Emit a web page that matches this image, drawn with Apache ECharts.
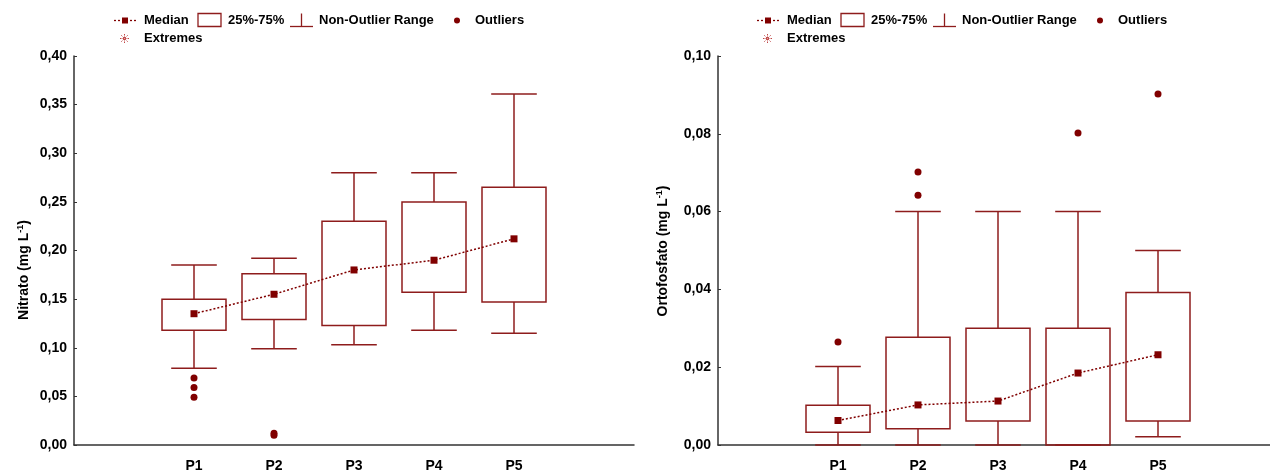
<!DOCTYPE html>
<html>
<head>
<meta charset="utf-8">
<script src="https://cdn.jsdelivr.net/npm/echarts@6/dist/echarts.min.js"></script>
<style>
  html, body { margin: 0; padding: 0; background: #fff; }
  #chart { width: 1270px; height: 470px; }
</style>
</head>
<body>
<div id="chart"></div>
<script>
// categories (first and last slot are empty, Statistica-style padding)
const categories = ['', 'P1', 'P2', 'P3', 'P4', 'P5', ''];

// Nitrato (mg L-1)
const nitratoLow    = [0.079, 0.099, 0.103, 0.118, 0.115];
const nitratoQ1     = [0.118, 0.129, 0.123, 0.157, 0.147];
const nitratoMedian = [0.135, 0.155, 0.180, 0.190, 0.212];
const nitratoQ3     = [0.150, 0.176, 0.230, 0.250, 0.265];
const nitratoHigh   = [0.185, 0.192, 0.280, 0.280, 0.361];
const nitratoOutliers = [[0.069, 0.059, 0.049], [0.010, 0.012], [], [], []];
const nitratoTicks = { min: 0, max: 0.40, step: 0.05 };

// Ortofosfato (mg L-1)
const ortoLow    = [0.000, 0.000, 0.000, 0.000, 0.0021];
const ortoQ1     = [0.0033, 0.0042, 0.0062, 0.000, 0.0062];
const ortoMedian = [0.0063, 0.0103, 0.0113, 0.0185, 0.0232];
const ortoQ3     = [0.0102, 0.0277, 0.0300, 0.0300, 0.0392];
const ortoHigh   = [0.0202, 0.0600, 0.0600, 0.0600, 0.0500];
const ortoOutliers = [[0.0265], [0.0642, 0.0702], [], [0.0802], [0.0902]];
const ortoTicks = { min: 0, max: 0.10, step: 0.02 };

const RED = '#800000';
const BOX_RED = '#8e1c1c';
const FONT = 'Liberation Sans';

const chart = echarts.init(document.getElementById('chart'));

function boxData(low, q1, med, q3, high) {
  return low.map((v, i) => [i + 1, v, q1[i], med[i], q3[i], high[i]]);
}
function medianData(med) {
  return med.map((v, i) => [i + 1, v]);
}
function outlierData(outs) {
  const res = [];
  outs.forEach((list, i) => list.forEach(v => res.push([i + 1, v])));
  return res;
}

function renderBox(params, api) {
  const x = api.value(0);
  const low = api.coord([x, api.value(1)]);
  const q1 = api.coord([x, api.value(2)]);
  const q3 = api.coord([x, api.value(4)]);
  const high = api.coord([x, api.value(5)]);
  const band = api.size([1, 0])[0];
  const bw = band * 0.8, cw = band * 0.57;
  const cx = q1[0];
  const st = { stroke: BOX_RED, lineWidth: 1.5, fill: null };
  return {
    type: 'group',
    children: [
      { type: 'line', shape: { x1: cx, y1: high[1], x2: cx, y2: q3[1] }, style: st },
      { type: 'line', shape: { x1: cx - cw / 2, y1: high[1], x2: cx + cw / 2, y2: high[1] }, style: st },
      { type: 'line', shape: { x1: cx, y1: q1[1], x2: cx, y2: low[1] }, style: st },
      { type: 'line', shape: { x1: cx - cw / 2, y1: low[1], x2: cx + cw / 2, y2: low[1] }, style: st },
      { type: 'rect', shape: { x: cx - bw / 2, y: q3[1], width: bw, height: q1[1] - q3[1] }, style: st }
    ]
  };
}

function fmt(v) { return v.toFixed(2).replace('.', ','); }

function xAxisFor(i) {
  return {
    type: 'category', gridIndex: i, data: categories, boundaryGap: true, offset: 2,
    axisLine: { lineStyle: { color: '#333', width: 1.5 } },
    axisTick: { alignWithLabel: true, inside: true, length: 3, lineStyle: { color: '#333' } },
    axisLabel: { color: '#000', fontWeight: 'bold', fontSize: 14, fontFamily: FONT, margin: 12 },
    splitLine: { show: false }
  };
}
function yAxisFor(i, t) {
  return {
    type: 'value', gridIndex: i, min: t.min, max: t.max, interval: t.step,
    axisLine: { show: true, lineStyle: { color: '#333', width: 1.5 } },
    axisTick: { show: true, inside: true, length: 3, lineStyle: { color: '#333' } },
    axisLabel: { color: '#000', fontWeight: 'bold', fontSize: 14, fontFamily: FONT, margin: 7, formatter: fmt },
    splitLine: { show: false }
  };
}

function seriesFor(i, low, q1, med, q3, high, outs) {
  return [
    {
      type: 'custom', xAxisIndex: i, yAxisIndex: i,
      data: boxData(low, q1, med, q3, high),
      encode: { x: 0, y: [1, 2, 4, 5] },
      renderItem: renderBox, z: 2
    },
    {
      type: 'line', xAxisIndex: i, yAxisIndex: i,
      data: medianData(med),
      symbol: 'rect', symbolSize: 7,
      itemStyle: { color: RED },
      lineStyle: { color: RED, width: 1.5, type: [2, 2] },
      z: 3
    },
    {
      type: 'scatter', xAxisIndex: i, yAxisIndex: i,
      data: outlierData(outs),
      symbol: 'circle', symbolSize: 7,
      itemStyle: { color: RED, opacity: 1 },
      z: 3
    }
  ];
}

function legend(dx) {
  const txt = (x, y, s) => ({
    type: 'text', x: x + dx, y: y,
    style: { text: s, font: 'bold 13px "' + FONT + '"', fill: '#000', textVerticalAlign: 'middle' }
  });
  const ln = (x1, y1, x2, y2, extra) => ({
    type: 'line', shape: { x1: x1 + dx, y1, x2: x2 + dx, y2 },
    style: Object.assign({ stroke: BOX_RED, lineWidth: 1.3 }, extra || {})
  });
  const y1 = 20.5, y2 = 38.5;
  const star = { lineDash: [1.5, 1], stroke: '#c04848', lineWidth: 1 };
  return [
    ln(114, y1, 138, y1, { lineDash: [2, 2], stroke: RED }),
    { type: 'rect', shape: { x: 122 + dx, y: y1 - 3, width: 6, height: 6 }, style: { fill: RED } },
    txt(144, y1, 'Median'),
    { type: 'rect', shape: { x: 198 + dx, y: 13.5, width: 23, height: 13 }, style: { fill: null, stroke: BOX_RED, lineWidth: 1.3 } },
    txt(228, y1, '25%-75%'),
    ln(290, 26.5, 313, 26.5),
    ln(301.5, 13.5, 301.5, 26.5),
    txt(319, y1, 'Non-Outlier Range'),
    { type: 'circle', shape: { cx: 457 + dx, cy: y1, r: 3 }, style: { fill: RED } },
    txt(475, y1, 'Outliers'),
    ln(120, y2, 129, y2, star),
    ln(124.5, y2 - 4.5, 124.5, y2 + 4.5, star),
    ln(121.3, y2 - 3.2, 127.7, y2 + 3.2, star),
    ln(121.3, y2 + 3.2, 127.7, y2 - 3.2, star),
    txt(144, y2, 'Extremes')
  ];
}

function yTitle(x, y, name) {
  return {
    type: 'text', x: x, y: y, rotation: Math.PI / 2,
    style: {
      text: '{a|' + name + ' (mg L}{s|-1}{a|)}',
      rich: {
        a: { font: 'bold 14px "' + FONT + '"', fill: '#000' },
        s: { font: 'bold 9px "' + FONT + '"', fill: '#000', padding: [0, 0, 7, 0] }
      },
      textAlign: 'center', textVerticalAlign: 'middle'
    }
  };
}

chart.setOption({
  backgroundColor: '#fff',
  animation: false,
  grid: [
    { left: 74, top: 56, width: 560, height: 389, outerBoundsMode: 'none' },
    { left: 718, top: 56, width: 560, height: 389, outerBoundsMode: 'none' }
  ],
  xAxis: [xAxisFor(0), xAxisFor(1)],
  yAxis: [yAxisFor(0, nitratoTicks), yAxisFor(1, ortoTicks)],
  series: [
    ...seriesFor(0, nitratoLow, nitratoQ1, nitratoMedian, nitratoQ3, nitratoHigh, nitratoOutliers),
    ...seriesFor(1, ortoLow, ortoQ1, ortoMedian, ortoQ3, ortoHigh, ortoOutliers)
  ],
  graphic: [
    ...legend(0),
    ...legend(643),
    yTitle(24, 270, 'Nitrato'),
    yTitle(663, 251, 'Ortofosfato')
  ]
});
</script>
</body>
</html>
